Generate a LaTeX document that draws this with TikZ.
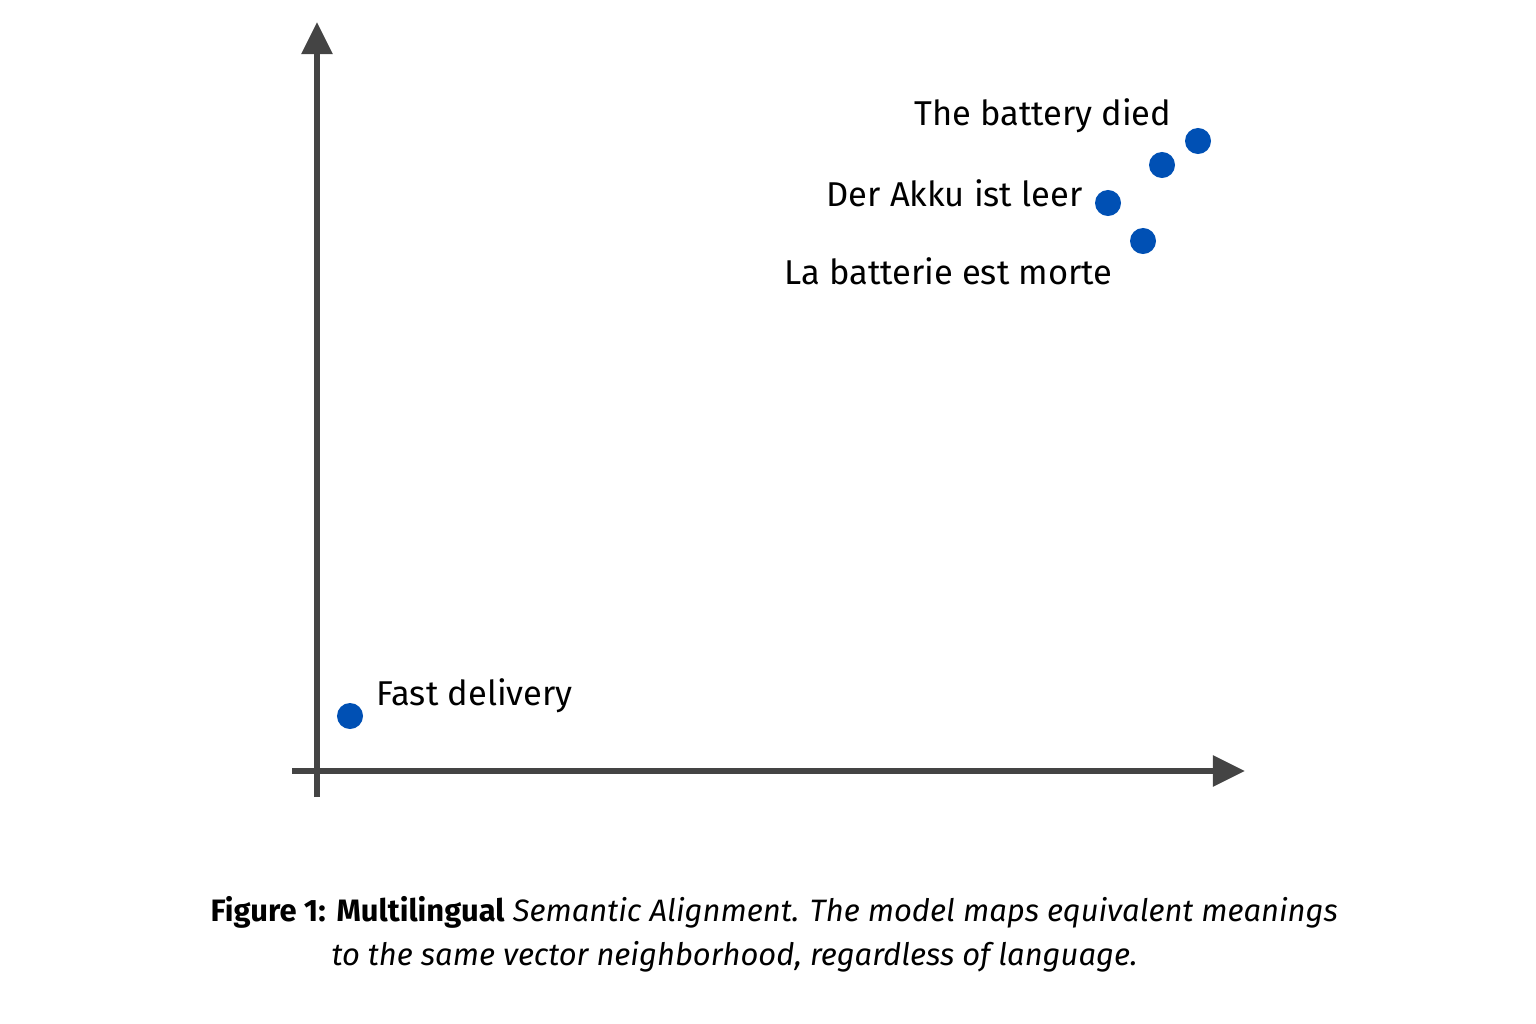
\documentclass[tikz,border=0pt]{standalone}
\usepackage{fontspec}
\setmainfont{Fira Sans}
\usetikzlibrary{arrows.meta}
\definecolor{axisgray}{HTML}{444444}
\definecolor{dotblue}{HTML}{0050B4}
\tikzset{
  axis/.style = {draw=axisgray, line width=1.6pt, -{Triangle[length=0.32cm, width=0.3cm]}},
  pt/.style = {circle, fill=dotblue, inner sep=0pt, minimum size=0.26cm},
  lbl/.style = {font=\fontsize{9.8}{12}\selectfont, inner sep=0pt},
}
\begin{document}
\begin{tikzpicture}[x=0.01cm, y=-0.01cm]
\useasboundingbox (0,0) rectangle (1536,1024);
% axes
\coordinate (O) at (317,771);
\coordinate (ybot) at (317,797);
\coordinate (ytop) at (317,22);
\coordinate (xleft) at (292,771);
\coordinate (xright) at (1245,771);
\draw[axis] (ybot) -- (ytop);
\draw[axis] (xleft) -- (xright);
% points
\node [pt] (died) at (1198,141) {};
\node [pt] (mid) at (1162,165) {};
\node [pt] (akku) at (1108,203) {};
\node [pt] (morte) at (1143,241) {};
\node [pt] (fast) at (350,716) {};
% labels
\node [lbl, anchor=east] (tdied) at (1172,116) {The battery died};
\node [lbl, anchor=east] (takku) at (1083,193) {Der Akku ist leer};
\node [lbl, anchor=east] (tmorte) at (1113,271) {La batterie est morte};
\node [lbl, anchor=west] (tfast) at (376,696) {Fast delivery};
% caption
\node [anchor=west, inner sep=0pt, font=\fontsize{8.8}{11}\selectfont] (cap1) at (210,912)
  {\textbf{Figure 1:} \textbf{Multilingual} \textit{Semantic Alignment. The model maps equivalent meanings}};
\node [anchor=west, inner sep=0pt, font=\fontsize{8.8}{11}\selectfont\itshape] (cap2) at (331,957)
  {to the same vector neighborhood, regardless of language.};
\end{tikzpicture}
\end{document}
